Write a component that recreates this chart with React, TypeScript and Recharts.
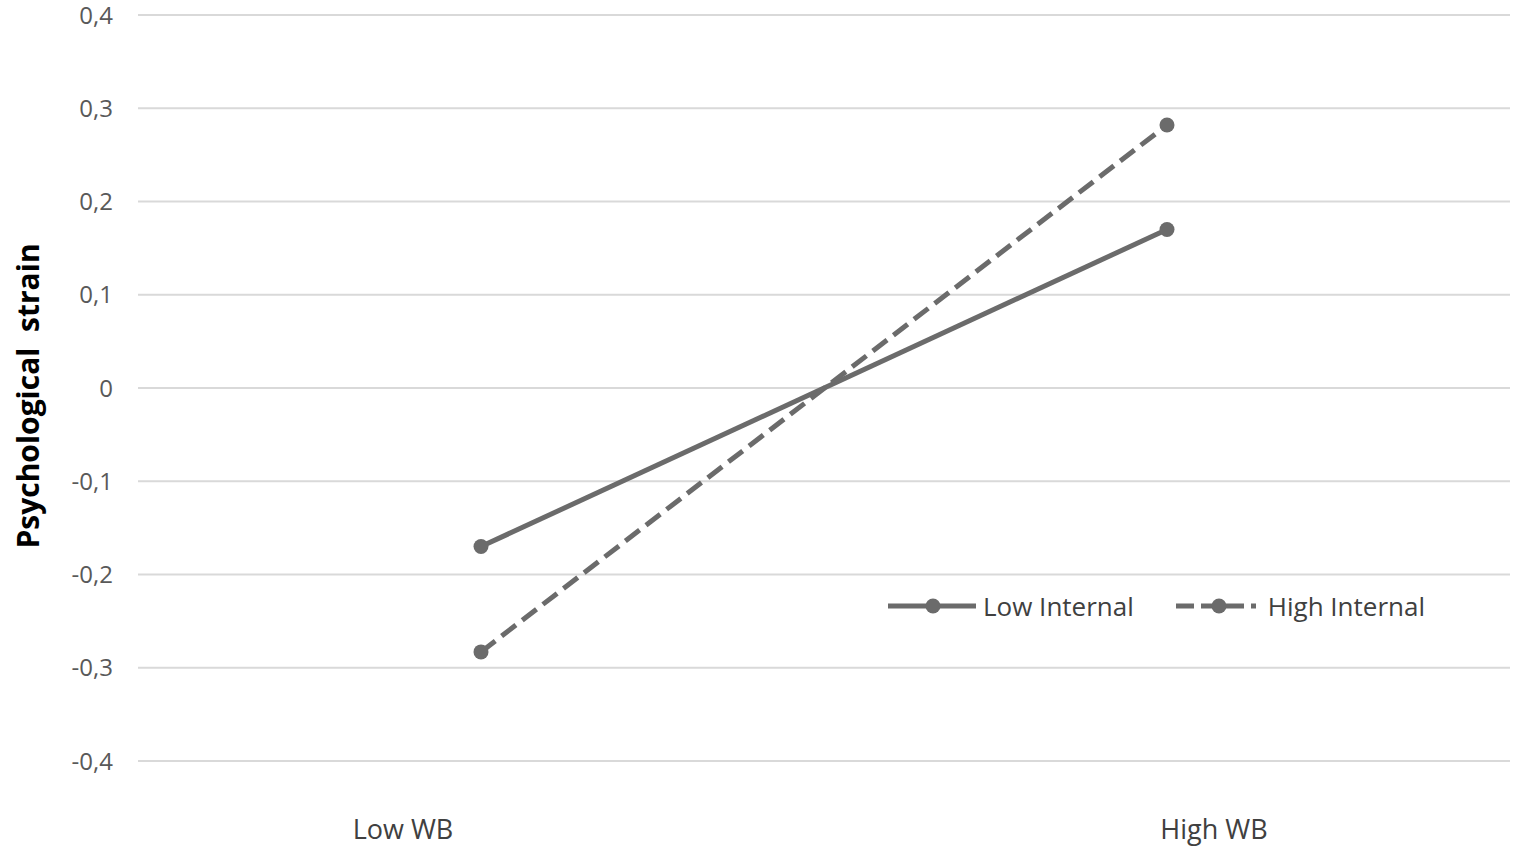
import React from "react"
import { LineChart, Line, XAxis, YAxis, CartesianGrid } from "recharts"

const categories = ["Low WB", "High WB"]
const lowInternal = [-0.17, 0.17]
const highInternal = [-0.283, 0.282]
const yTicks = [-0.4, -0.3, -0.2, -0.1, 0, 0.1, 0.2, 0.3, 0.4]
const seriesNames = ["Low Internal", "High Internal"]

const data = categories.map((cat, i) => ({
  cat,
  low: lowInternal[i],
  high: highInternal[i],
}))

const LINE = "#6b6b6b"
const FONT = "'Open Sans', 'Liberation Sans', sans-serif"

const fmt = (v: number) => (v === 0 ? "0" : v.toFixed(1).replace(".", ","))

// labels in the original sit off the category centers
const tickShift: Record<string, number> = { "Low WB": -78, "High WB": 47 }

function XTick(props: any) {
  const { x, y, payload } = props
  return (
    <text x={x + (tickShift[payload.value] || 0)} y={y + 70} textAnchor="middle" fill="#404040" fontSize={27} fontFamily={FONT}>
      {payload.value}
    </text>
  )
}

function LegendBox() {
  return (
    <div style={{ position: "absolute", left: 886, top: 588, height: 36, display: "flex", alignItems: "center", fontFamily: FONT, fontSize: 26, color: "#404040" }}>
      <svg width={92} height={20}>
        <line x1={2} y1={10} x2={90} y2={10} stroke={LINE} strokeWidth={5} />
        <circle cx={47} cy={10} r={7.5} fill={LINE} />
      </svg>
      <span style={{ marginLeft: 5 }}>{seriesNames[0]}</span>
      <svg width={84} height={20} style={{ marginLeft: 40 }}>
        <line x1={2} y1={10} x2={82} y2={10} stroke={LINE} strokeWidth={5} strokeDasharray="18 7" />
        <circle cx={45} cy={10} r={7.5} fill={LINE} />
      </svg>
      <span style={{ marginLeft: 10 }}>{seriesNames[1]}</span>
    </div>
  )
}

export default function App() {
  return (
    <div style={{ position: "fixed", left: 0, top: 0, width: 1516, height: 852, background: "#fff" }}>
      <LineChart width={1516} height={852} data={data} margin={{ top: 15, right: 6, bottom: 61, left: 0 }}>
        <CartesianGrid vertical={false} stroke="#d9d9d9" strokeWidth={2} />
        <XAxis dataKey="cat" scale="band" height={30} axisLine={false} tickLine={false} tick={<XTick />} />
        <YAxis
          type="number"
          domain={[-0.4, 0.4]}
          ticks={yTicks}
          width={138}
          axisLine={false}
          tickLine={false}
          tickSize={0}
          tickMargin={25}
          tickFormatter={fmt}
          tick={{ fill: "#595959", fontSize: 24, fontFamily: FONT }}
          label={{
            content: ({ viewBox }: any) => {
              const cx = viewBox.x + 27
              const cy = viewBox.y + viewBox.height / 2 + 8
              return (
                <text x={cx} y={cy} transform={`rotate(-90 ${cx} ${cy})`} textAnchor="middle" dominantBaseline="central" fontSize={30} fontWeight="bold" fill="#000" fontFamily={FONT}>
                  {"Psychological\u00a0\u00a0strain"}
                </text>
              )
            },
          }}
        />
        <Line dataKey="low" name={seriesNames[0]} stroke={LINE} strokeWidth={5} dot={{ r: 7.5, fill: LINE, stroke: LINE, strokeWidth: 0 }} isAnimationActive={false} />
        <Line dataKey="high" name={seriesNames[1]} stroke={LINE} strokeWidth={5} strokeDasharray="18 8" dot={{ r: 7.5, fill: LINE, stroke: LINE, strokeWidth: 0 }} isAnimationActive={false} />
      </LineChart>
      <LegendBox />
    </div>
  )
}
